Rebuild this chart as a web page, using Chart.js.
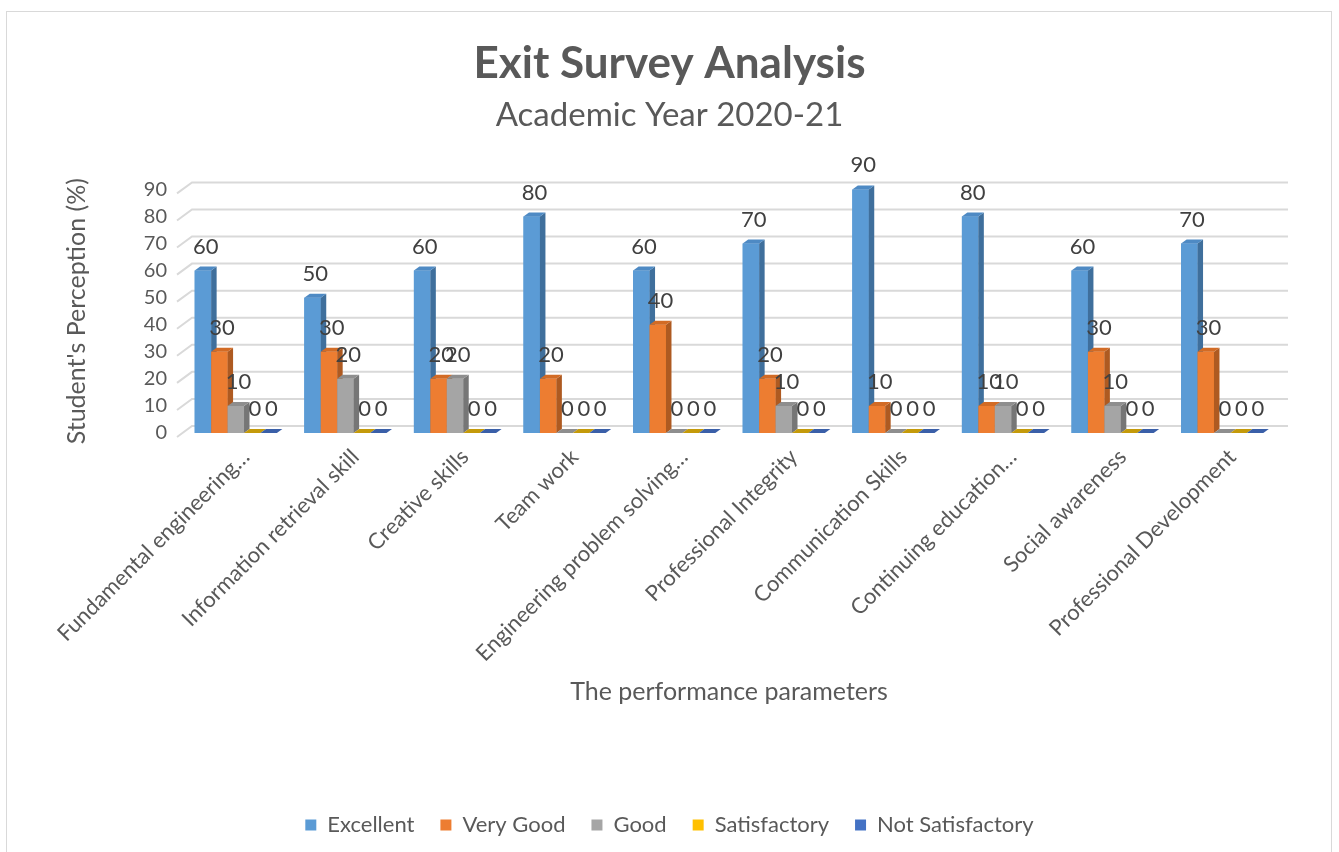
<!DOCTYPE html>
<html>
<head>
<meta charset="utf-8">
<script src="https://cdn.jsdelivr.net/npm/chart.js@4.4.0/dist/chart.umd.min.js"></script>
<style>
    html, body { margin: 0; padding: 0; background: #fff; }
</style>
</head>
<body>
<canvas id="myChart" width="1339" height="852"></canvas>
<script>
var categories = [
    'Fundamental engineering…',
    'Information retrieval skill',
    'Creative skills',
    'Team work',
    'Engineering problem solving…',
    'Professional Integrity',
    'Communication Skills',
    'Continuing education…',
    'Social awareness',
    'Professional Development'
];
var excellent = [60, 50, 60, 80, 60, 70, 90, 80, 60, 70];
var veryGood = [30, 30, 20, 20, 40, 20, 10, 10, 30, 30];
var good = [10, 20, 20, 0, 0, 10, 0, 10, 10, 0];
var satisfactory = [0, 0, 0, 0, 0, 0, 0, 0, 0, 0];
var notSatisfactory = [0, 0, 0, 0, 0, 0, 0, 0, 0, 0];
var yTicks = [0, 10, 20, 30, 40, 50, 60, 70, 80, 90];

var FONT = 'Lato';
// front, side, top
var faces = [
    ['#5B9BD5', '#3F6F9C', '#4E8AC4'],
    ['#ED7D31', '#AE5A21', '#D26B25'],
    ['#A5A5A5', '#767676', '#8E8E8E'],
    ['#FFC000', '#B88A00', '#C49A0A'],
    ['#4472C4', '#2E508C', '#3A5FA8']
];
var dx = 5.5, dy = 4;

var bars3d = {
    id: 'bars3d',
    beforeDraw: function (chart) {
        var ctx = chart.ctx;
        ctx.save();
        ctx.strokeStyle = '#D9D9D9';
        ctx.lineWidth = 1;
        ctx.strokeRect(6.5, 11.5, 1325, 860);
        ctx.restore();
    },
    beforeDatasetsDraw: function (chart) {
        var ctx = chart.ctx;
        var area = chart.chartArea;
        var y = chart.scales.y;
        ctx.save();
        ctx.strokeStyle = '#D9D9D9';
        ctx.lineWidth = 2;
        yTicks.forEach(function (v) {
            var py = y.getPixelForValue(v);
            ctx.beginPath();
            ctx.moveTo(area.left - 4, py + 4);
            ctx.lineTo(area.left + 11, py - 7);
            ctx.lineTo(area.right + 11, py - 7);
            ctx.stroke();
        });
        ctx.restore();
    },
    afterDatasetsDraw: function (chart) {
        var ctx = chart.ctx;
        var n = chart.data.datasets.length;
        ctx.save();
        for (var i = 0; i < categories.length; i++) {
            for (var d = 0; d < n; d++) {
                var p = chart.getDatasetMeta(d).data[i].getProps(['x', 'y', 'base', 'width'], true);
                var l = p.x - p.width / 2, r = p.x + p.width / 2;
                ctx.fillStyle = faces[d][0];
                ctx.fillRect(l, p.y, p.width, p.base - p.y);
                ctx.fillStyle = faces[d][1];
                ctx.beginPath();
                ctx.moveTo(r, p.y);
                ctx.lineTo(r + dx, p.y - dy);
                ctx.lineTo(r + dx, p.base - dy);
                ctx.lineTo(r, p.base);
                ctx.closePath();
                ctx.fill();
                ctx.fillStyle = faces[d][2];
                ctx.beginPath();
                ctx.moveTo(l, p.y);
                ctx.lineTo(r, p.y);
                ctx.lineTo(r + dx, p.y - dy);
                ctx.lineTo(l + dx, p.y - dy);
                ctx.closePath();
                ctx.fill();
            }
        }
        // value labels
        ctx.fillStyle = '#404040';
        ctx.font = '22px ' + FONT;
        ctx.textAlign = 'center';
        ctx.textBaseline = 'middle';
        for (var d2 = 0; d2 < n; d2++) {
            var meta = chart.getDatasetMeta(d2);
            meta.data.forEach(function (bar, j) {
                var q = bar.getProps(['x', 'y'], true);
                ctx.fillText(String(chart.data.datasets[d2].data[j]), q.x + dx / 2, q.y - 24);
            });
        }
        ctx.restore();
    }
};

var ctx = document.getElementById('myChart').getContext('2d');
var myChart = new Chart(ctx, {
    type: 'bar',
    data: {
        labels: categories,
        datasets: [
            { label: 'Excellent', data: excellent, backgroundColor: faces[0][0] },
            { label: 'Very Good', data: veryGood, backgroundColor: faces[1][0] },
            { label: 'Good', data: good, backgroundColor: faces[2][0] },
            { label: 'Satisfactory', data: satisfactory, backgroundColor: faces[3][0] },
            { label: 'Not Satisfactory', data: notSatisfactory, backgroundColor: faces[4][0] }
        ]
    },
    options: {
        responsive: false,
        animation: false,
        devicePixelRatio: 1,
        datasets: { bar: { barPercentage: 1, categoryPercentage: 0.75 } },
        layout: { padding: { top: 0, left: 62, right: 62, bottom: 6 } },
        plugins: {
            title: {
                display: true,
                text: 'Exit Survey Analysis',
                color: '#595959',
                font: { family: FONT, size: 44, weight: 'bold' },
                padding: { top: 37, bottom: 0 }
            },
            subtitle: {
                display: true,
                text: 'Academic Year 2020-21',
                color: '#595959',
                font: { family: FONT, size: 33 },
                padding: { top: 6, bottom: 54 }
            },
            legend: {
                position: 'bottom',
                labels: {
                    color: '#595959',
                    font: { family: FONT, size: 22 },
                    boxWidth: 11,
                    boxHeight: 11,
                    padding: 26
                }
            },
            tooltip: { enabled: false }
        },
        scales: {
            x: {
                grid: { display: false },
                border: { display: false },
                ticks: {
                    color: '#595959',
                    font: { family: FONT, size: 22 },
                    minRotation: 45,
                    maxRotation: 45,
                    autoSkip: false,
                    labelOffset: 10
                },
                title: {
                    display: true,
                    text: 'The performance parameters',
                    color: '#595959',
                    font: { family: FONT, size: 25 },
                    padding: { top: 4, bottom: 81 }
                },
                afterFit: function (scale) { scale.height = 355; }
            },
            y: {
                min: 0,
                max: 90,
                grid: { display: false },
                border: { display: false },
                afterBuildTicks: function (scale) {
                    scale.ticks = yTicks.map(function (v) { return { value: v }; });
                },
                ticks: {
                    color: '#595959',
                    font: { family: FONT, size: 20 },
                    padding: 6
                },
                title: {
                    display: true,
                    text: "Student's Perception (%)",
                    color: '#595959',
                    font: { family: FONT, size: 25 },
                    padding: { top: 0, bottom: 0 }
                },
                afterFit: function (scale) { scale.width = 119; }
            }
        }
    },
    plugins: [bars3d]
});
</script>
</body>
</html>
